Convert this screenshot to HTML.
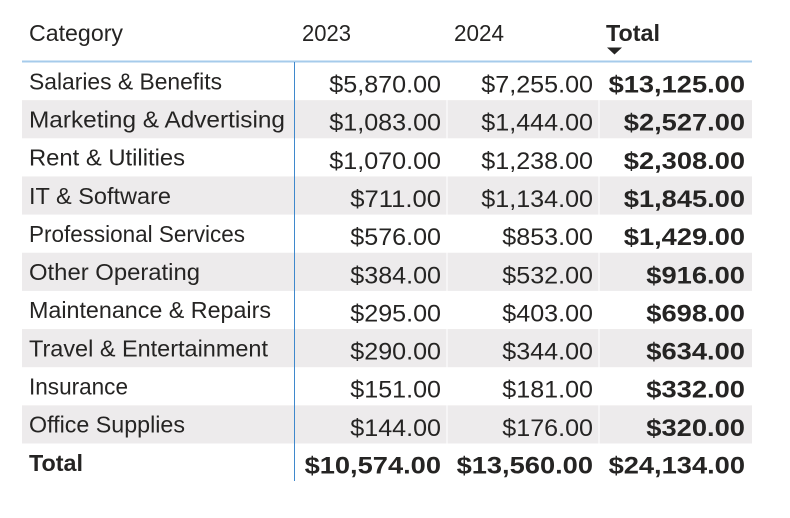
<!DOCTYPE html>
<html><head><meta charset="utf-8"><style>
html,body{margin:0;padding:0;background:#fff;width:790px;height:518px;overflow:hidden}
svg{display:block}
text{font-family:"Liberation Sans",Arial,sans-serif;fill:#252423}
.c{font-size:23px}
.n{font-size:24.5px}
.b{font-size:24.5px;font-weight:bold}
</style></head><body>
<svg width="790" height="518" viewBox="0 0 790 518" xmlns="http://www.w3.org/2000/svg">
<!-- shaded rows -->
<g fill="#edebec">
<rect x="22" y="100.15" width="730" height="38.15"/>
<rect x="22" y="176.45" width="730" height="38.15"/>
<rect x="22" y="252.75" width="730" height="38.15"/>
<rect x="22" y="329.05" width="730" height="38.15"/>
<rect x="22" y="405.35" width="730" height="38.15"/>
</g>
<!-- column separators (white) -->
<g stroke="#ffffff" stroke-width="1">
<line x1="447" y1="62" x2="447" y2="444"/>
<line x1="599" y1="62" x2="599" y2="444"/>
</g>
<!-- header line -->
<rect x="22" y="60.5" width="730" height="2" fill="#a6cbeb"/>
<!-- vertical line -->
<rect x="294" y="62" width="1" height="419" fill="#3f88cc"/>

<!-- header -->
<text class="c" x="29" y="41" textLength="94" lengthAdjust="spacingAndGlyphs">Category</text>
<text class="c" x="302" y="41" textLength="49" lengthAdjust="spacingAndGlyphs">2023</text>
<text class="c" x="454" y="41" textLength="50" lengthAdjust="spacingAndGlyphs">2024</text>
<text class="c" x="606" y="41" font-weight="bold" textLength="54" lengthAdjust="spacingAndGlyphs">Total</text>
<polygon points="607,47.5 622,47.5 614.5,54.5" fill="#252423"/>

<!-- rows -->
<text class="c" x="29" y="89.3" textLength="193" lengthAdjust="spacingAndGlyphs">Salaries &amp; Benefits</text>
<text class="c" x="29" y="127.5" textLength="256" lengthAdjust="spacingAndGlyphs">Marketing &amp; Advertising</text>
<text class="c" x="29" y="165.6" textLength="156" lengthAdjust="spacingAndGlyphs">Rent &amp; Utilities</text>
<text class="c" x="29" y="203.8" textLength="142" lengthAdjust="spacingAndGlyphs">IT &amp; Software</text>
<text class="c" x="29" y="241.9" textLength="216" lengthAdjust="spacingAndGlyphs">Professional Services</text>
<text class="c" x="29" y="280.1" textLength="171" lengthAdjust="spacingAndGlyphs">Other Operating</text>
<text class="c" x="29" y="318.2" textLength="242" lengthAdjust="spacingAndGlyphs">Maintenance &amp; Repairs</text>
<text class="c" x="29" y="356.4" textLength="239" lengthAdjust="spacingAndGlyphs">Travel &amp; Entertainment</text>
<text class="c" x="29" y="394.5" textLength="99" lengthAdjust="spacingAndGlyphs">Insurance</text>
<text class="c" x="29" y="432.7" textLength="156" lengthAdjust="spacingAndGlyphs">Office Supplies</text>
<text class="c" x="29" y="471" font-weight="bold" textLength="54" lengthAdjust="spacingAndGlyphs">Total</text>

<g text-anchor="end">
<!-- 2023 -->
<text class="n" x="441" y="92.5" textLength="111.7" lengthAdjust="spacingAndGlyphs">$5,870.00</text>
<text class="n" x="441" y="130.7" textLength="111.7" lengthAdjust="spacingAndGlyphs">$1,083.00</text>
<text class="n" x="441" y="168.8" textLength="111.7" lengthAdjust="spacingAndGlyphs">$1,070.00</text>
<text class="n" x="441" y="207" textLength="90.7" lengthAdjust="spacingAndGlyphs">$711.00</text>
<text class="n" x="441" y="245.1" textLength="90.7" lengthAdjust="spacingAndGlyphs">$576.00</text>
<text class="n" x="441" y="283.3" textLength="90.7" lengthAdjust="spacingAndGlyphs">$384.00</text>
<text class="n" x="441" y="321.4" textLength="90.7" lengthAdjust="spacingAndGlyphs">$295.00</text>
<text class="n" x="441" y="359.6" textLength="90.7" lengthAdjust="spacingAndGlyphs">$290.00</text>
<text class="n" x="441" y="397.7" textLength="90.7" lengthAdjust="spacingAndGlyphs">$151.00</text>
<text class="n" x="441" y="435.9" textLength="90.7" lengthAdjust="spacingAndGlyphs">$144.00</text>
<text class="b" x="441" y="473.5" textLength="136.4" lengthAdjust="spacingAndGlyphs">$10,574.00</text>

<!-- 2024 -->
<text class="n" x="593" y="92.5" textLength="111.7" lengthAdjust="spacingAndGlyphs">$7,255.00</text>
<text class="n" x="593" y="130.7" textLength="111.7" lengthAdjust="spacingAndGlyphs">$1,444.00</text>
<text class="n" x="593" y="168.8" textLength="111.7" lengthAdjust="spacingAndGlyphs">$1,238.00</text>
<text class="n" x="593" y="207" textLength="111.7" lengthAdjust="spacingAndGlyphs">$1,134.00</text>
<text class="n" x="593" y="245.1" textLength="90.7" lengthAdjust="spacingAndGlyphs">$853.00</text>
<text class="n" x="593" y="283.3" textLength="90.7" lengthAdjust="spacingAndGlyphs">$532.00</text>
<text class="n" x="593" y="321.4" textLength="90.7" lengthAdjust="spacingAndGlyphs">$403.00</text>
<text class="n" x="593" y="359.6" textLength="90.7" lengthAdjust="spacingAndGlyphs">$344.00</text>
<text class="n" x="593" y="397.7" textLength="90.7" lengthAdjust="spacingAndGlyphs">$181.00</text>
<text class="n" x="593" y="435.9" textLength="90.7" lengthAdjust="spacingAndGlyphs">$176.00</text>
<text class="b" x="593" y="473.5" textLength="136.4" lengthAdjust="spacingAndGlyphs">$13,560.00</text>

<!-- Total -->
<text class="b" x="745" y="92.5" textLength="136.4" lengthAdjust="spacingAndGlyphs">$13,125.00</text>
<text class="b" x="745" y="130.7" textLength="121.2" lengthAdjust="spacingAndGlyphs">$2,527.00</text>
<text class="b" x="745" y="168.8" textLength="121.2" lengthAdjust="spacingAndGlyphs">$2,308.00</text>
<text class="b" x="745" y="207" textLength="121.2" lengthAdjust="spacingAndGlyphs">$1,845.00</text>
<text class="b" x="745" y="245.1" textLength="121.2" lengthAdjust="spacingAndGlyphs">$1,429.00</text>
<text class="b" x="745" y="283.3" textLength="98.7" lengthAdjust="spacingAndGlyphs">$916.00</text>
<text class="b" x="745" y="321.4" textLength="98.7" lengthAdjust="spacingAndGlyphs">$698.00</text>
<text class="b" x="745" y="359.6" textLength="98.7" lengthAdjust="spacingAndGlyphs">$634.00</text>
<text class="b" x="745" y="397.7" textLength="98.7" lengthAdjust="spacingAndGlyphs">$332.00</text>
<text class="b" x="745" y="435.9" textLength="98.7" lengthAdjust="spacingAndGlyphs">$320.00</text>
<text class="b" x="745" y="473.5" textLength="136.4" lengthAdjust="spacingAndGlyphs">$24,134.00</text>
</g>
</svg>
</body></html>
